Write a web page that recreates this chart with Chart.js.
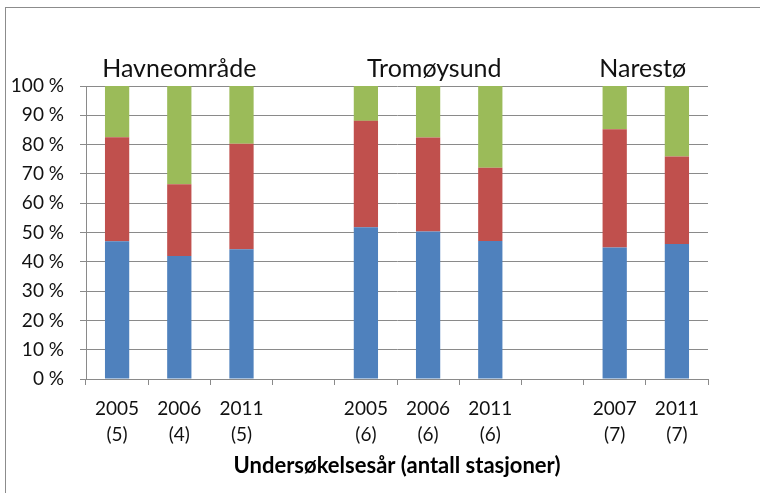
<!DOCTYPE html>
<html>
<head>
<meta charset="utf-8">
<script src="https://cdn.jsdelivr.net/npm/chart.js@4"></script>
<style>
  body { margin: 0; background: #fff; overflow: hidden; }
  #wrap { position: relative; width: 760px; height: 493px; }
  #frame { position: absolute; left: 5px; top: 7px; width: 800px; height: 520px; border-left: 1px solid #8c8c8c; border-top: 1px solid #8c8c8c; }
  canvas { position: absolute; left: 0; top: 0; }
</style>
</head>
<body>
<div id="wrap">
  <div id="frame"></div>
  <canvas id="barChart" width="760" height="493"></canvas>
</div>
<script>
// Data
const years = ['2005', '2006', '2011', '', '2005', '2006', '2011', '', '2007', '2011'];
const stations = ['(5)', '(4)', '(5)', '', '(6)', '(6)', '(6)', '', '(7)', '(7)'];
const blueValues = [47, 42, 44.3, null, 51.8, 50.3, 47.1, null, 44.9, 46.1];
const redValues = [35.5, 24.5, 36, null, 36.3, 32.1, 25, null, 40.3, 29.8];
const greenValues = [17.5, 33.5, 19.7, null, 11.9, 17.6, 27.9, null, 14.8, 24.1];
const yTicks = [0, 10, 20, 30, 40, 50, 60, 70, 80, 90, 100];
const groups = ['Havneområde', 'Tromøysund', 'Narestø'];
const groupAt = [1, 5.1, 8.45];

const labels = years.map((y, i) => [y, stations[i]]);
const font = 'Lato, "Open Sans", sans-serif';

// Group names above the bars
const groupLabels = {
  id: 'groupLabels',
  afterDraw(chart) {
    const ctx = chart.ctx;
    const x = chart.scales.x;
    ctx.save();
    ctx.fillStyle = '#111';
    ctx.font = '25px ' + font;
    ctx.textAlign = 'center';
    ctx.textBaseline = 'middle';
    groups.forEach((g, i) => {
      ctx.fillText(g, x.getPixelForValue(groupAt[i]), 69);
    });
    ctx.restore();
  }
};

const ctx = document.getElementById('barChart').getContext('2d');
new Chart(ctx, {
  type: 'bar',
  data: {
    labels: labels,
    datasets: [
      { data: blueValues, backgroundColor: '#4f81bd' },
      { data: redValues, backgroundColor: '#c0504d' },
      { data: greenValues, backgroundColor: '#9bbb59' }
    ]
  },
  options: {
    responsive: false,
    animation: false,
    categoryPercentage: 1,
    barPercentage: 0.39,
    layout: { padding: { top: 86, right: 52, left: 0, bottom: 0 } },
    plugins: {
      legend: { display: false },
      tooltip: { enabled: false }
    },
    scales: {
      x: {
        stacked: true,
        grid: { offset: true, drawOnChartArea: false, drawTicks: true, tickLength: 6, color: '#8a8a8a' },
        border: { color: '#8a8a8a' },
        ticks: { color: '#111', font: { family: font, size: 19, lineHeight: 1.37 }, padding: 11, maxRotation: 0, autoSkip: false },
        title: { display: true, text: 'Undersøkelsesår (antall stasjoner)', color: '#000', font: { family: font, size: 22, weight: 'bold' }, padding: { top: 2, bottom: 14 } },
        afterFit(s) { s.height = 114; }
      },
      y: {
        stacked: true,
        min: 0,
        max: 100,
        afterBuildTicks(s) { s.ticks = yTicks.map(v => ({ value: v })); },
        grid: { color: '#8a8a8a', tickLength: 6 },
        border: { color: '#8a8a8a' },
        ticks: { color: '#111', font: { family: font, size: 19 }, padding: 16, callback: v => v + ' %' },
        afterFit(s) { s.width = 86; }
      }
    }
  },
  plugins: [groupLabels]
});
</script>
</body>
</html>
